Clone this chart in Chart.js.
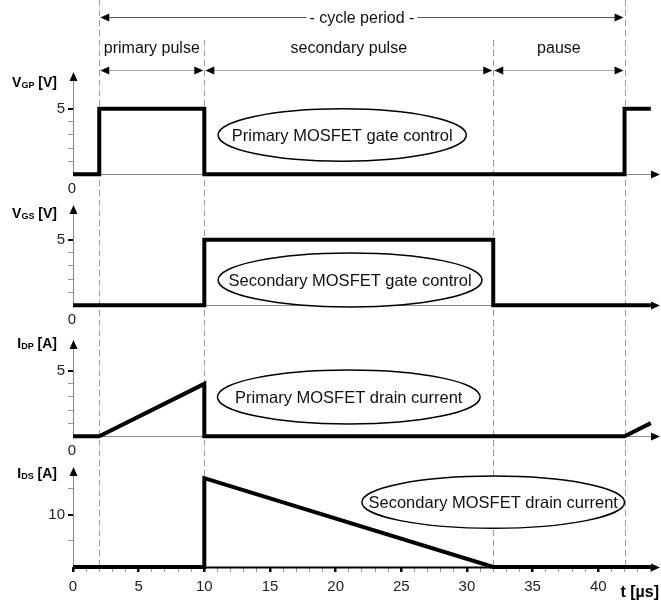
<!DOCTYPE html>
<html>
<head>
<meta charset="utf-8">
<script src="https://cdn.jsdelivr.net/npm/chart.js@4"></script>
<style>
  html, body { margin: 0; padding: 0; background: #fff; }
  #wrap { width: 661px; height: 607px; }
</style>
</head>
<body>
<div id="wrap"><canvas id="timing" width="661" height="607"></canvas></div>
<script>
// waveforms, time in µs
var tGp = [0, 2, 2, 10, 10, 42, 42, 44]
var vGp = [0, 0, 5, 5, 0, 0, 5, 5]
var tGs = [0, 10, 10, 32, 32, 44]
var vGs = [0, 0, 5, 5, 0, 0]
var tDp = [0, 2, 10, 10, 42, 44]
var iDp = [0, 0, 4, 0, 0, 1]
var tDs = [0, 10, 10, 32, 44]
var iDs = [0, 0, 17, 0, 0]

// ticks
var timeTicks = [0,1,2,3,4,5,6,7,8,9,10,11,12,13,14,15,16,17,18,19,20,21,22,23,24,25,26,27,28,29,30,31,32,33,34,35,36,37,38,39,40,41,42,43,44]
var voltTicks = [1, 2, 3, 4, 5]
var ampTicks = [1, 2, 3, 4, 5]
var bigAmpTicks = [5, 10, 15]

// phases of one cycle
var phaseMarks = [2, 10, 32, 42]
var phaseNames = ["primary pulse", "secondary pulse", "pause"]
var cycleName = "- cycle period -"

var panelIds = ["yGp", "yGs", "yDp", "yDs"]
var panelTitles = [["V", "GP", " [V]"], ["V", "GS", " [V]"], ["I", "DP", " [A]"], ["I", "DS", " [A]"]]
var titleLevel = [6.66, 6.66, 6.74, 16.96]
var arrowLevel = [7.8, 7.66, 7.35, 19.1]
var bubbleTexts = ["Primary MOSFET gate control", "Secondary MOSFET gate control", "Primary MOSFET drain current", "Secondary MOSFET drain current"]
// centre x, centre y, radius x, radius y (data units)
var bubbleX = [20.5, 21.1, 21.0, 32.0]
var bubbleY = [3.0, 1.93, 3.0, 12.4]
var bubbleRx = [9.45, 10.05, 10.0, 10.0]
var bubbleRy = [2.0, 2.06, 2.06, 5.0]

var FONT = "'Liberation Sans', Arial, sans-serif"

function pts(t, v) {
    return t.map(function (x, i) { return { x: x, y: v[i] } })
}

function trace(t, v, axis) {
    return {
        data: pts(t, v),
        yAxisID: axis,
        borderColor: "#000",
        borderWidth: 4,
        pointRadius: 0,
        tension: 0,
        borderJoinStyle: "miter",
        borderCapStyle: "butt",
        clip: false
    }
}

function yAxis(min, max, weight, stackWeight, tickList, major) {
    return {
        type: "linear",
        position: "left",
        stack: "panels",
        stackWeight: stackWeight,
        weight: weight,
        min: min,
        max: max,
        afterBuildTicks: function (s) { s.ticks = tickList.map(function (v) { return { value: v } }) },
        afterFit: function (s) { s.width = 73 },
        border: { display: false },
        grid: {
            drawOnChartArea: false,
            tickLength: 5,
            color: function (c) { return c.tick && c.tick.value === major ? "#000" : "#999" },
            lineWidth: function (c) { return c.tick && c.tick.value === major ? 2 : 1 }
        },
        ticks: {
            autoSkip: false,
            padding: 3,
            color: "#222",
            font: { family: FONT, size: 15 },
            callback: function (v) { return v === major ? String(v) : "" }
        }
    }
}

function arrowHead(ctx, x, y, dx, dy) {
    // tip at x,y pointing along dx,dy
    var len = 9, half = 4
    ctx.beginPath()
    ctx.moveTo(x, y)
    ctx.lineTo(x - dx * len - dy * half, y - dy * len + dx * half)
    ctx.lineTo(x - dx * len + dy * half, y - dy * len - dx * half)
    ctx.closePath()
    ctx.fillStyle = "#000"
    ctx.fill()
}

function line(ctx, x1, y1, x2, y2) {
    ctx.beginPath()
    ctx.moveTo(x1, y1)
    ctx.lineTo(x2, y2)
    ctx.stroke()
}

var decor = {
    id: "decor",
    beforeDatasetsDraw: function (chart) {
        var ctx = chart.ctx
        var xs = chart.scales.x
        var area = chart.chartArea
        ctx.save()
        // phase boundaries
        ctx.strokeStyle = "#9a9a9a"
        ctx.lineWidth = 1
        ctx.setLineDash([6, 4])
        phaseMarks.forEach(function (t, i) {
            var px = Math.round(xs.getPixelForValue(t)) + 0.5
            var top = (i === 0 || i === phaseMarks.length - 1) ? 0 : 40
            line(ctx, px, top, px, area.bottom)
        })
        ctx.setLineDash([])
        // axes with arrows
        panelIds.forEach(function (id, i) {
            var s = chart.scales[id]
            var y0 = Math.round(s.getPixelForValue(0)) + 0.5
            var x0 = Math.round(xs.getPixelForValue(0)) + 0.5
            var last = i === panelIds.length - 1
            ctx.strokeStyle = last ? "#000" : "#8a8a8a"
            ctx.lineWidth = last ? 2 : 1
            line(ctx, x0, y0, area.right - 6, y0)
            arrowHead(ctx, area.right, y0, 1, 0)
            var tip = s.getPixelForValue(arrowLevel[i])
            ctx.strokeStyle = "#8a8a8a"
            ctx.lineWidth = 1
            line(ctx, x0, y0, x0, tip + 6)
            arrowHead(ctx, x0, tip, 0, -1)
        })
        ctx.restore()
    },
    afterDatasetsDraw: function (chart) {
        var ctx = chart.ctx
        var xs = chart.scales.x
        var area = chart.chartArea
        ctx.save()
        panelIds.forEach(function (id, i) {
            var s = chart.scales[id]
            // note bubble
            var cx = xs.getPixelForValue(bubbleX[i])
            var cy = s.getPixelForValue(bubbleY[i])
            var rx = xs.getPixelForValue(bubbleX[i] + bubbleRx[i]) - cx
            var ry = cy - s.getPixelForValue(bubbleY[i] + bubbleRy[i])
            ctx.beginPath()
            ctx.ellipse(cx, cy, rx, ry, 0, 0, Math.PI * 2)
            ctx.fillStyle = "#fff"
            ctx.fill()
            ctx.strokeStyle = "#000"
            ctx.lineWidth = 1.5
            ctx.stroke()
            ctx.fillStyle = "#111"
            ctx.font = "16.5px " + FONT
            ctx.textAlign = "center"
            ctx.textBaseline = "middle"
            ctx.fillText(bubbleTexts[i], cx, cy + 1)

            // axis title with subscript
            var tt = panelTitles[i]
            var by = s.getPixelForValue(titleLevel[i])
            ctx.textBaseline = "alphabetic"
            ctx.textAlign = "left"
            ctx.font = "bold 14px " + FONT
            var w1 = ctx.measureText(tt[0]).width
            var w3 = ctx.measureText(tt[2]).width
            ctx.font = "bold 9px " + FONT
            var w2 = ctx.measureText(tt[1]).width
            var left = 57 - (w1 + w2 + w3)
            ctx.fillStyle = "#000"
            ctx.font = "bold 14px " + FONT
            ctx.fillText(tt[0], left, by)
            ctx.font = "bold 9px " + FONT
            ctx.fillText(tt[1], left + w1, by + 1)
            ctx.font = "bold 14px " + FONT
            ctx.fillText(tt[2], left + w1 + w2, by)

            // zero under origin
            if (i < panelIds.length - 1) {
                ctx.font = "15px " + FONT
                ctx.fillStyle = "#222"
                ctx.textAlign = "center"
                ctx.fillText("0", xs.getPixelForValue(0) - 1, s.getPixelForValue(0) + 19)
            }
        })

        // cycle period arrow
        var xa = xs.getPixelForValue(phaseMarks[0])
        var xb = xs.getPixelForValue(phaseMarks[phaseMarks.length - 1])
        var row1 = 17.5
        ctx.strokeStyle = "#555"
        ctx.lineWidth = 1
        line(ctx, xa + 4, row1, xb - 4, row1)
        arrowHead(ctx, xa + 1, row1, -1, 0)
        arrowHead(ctx, xb - 1, row1, 1, 0)
        ctx.font = "16px " + FONT
        var cw = ctx.measureText(cycleName).width
        var cmid = (xa + xb) / 2
        ctx.fillStyle = "#fff"
        ctx.fillRect(cmid - cw / 2 - 3, row1 - 10, cw + 6, 20)
        ctx.fillStyle = "#111"
        ctx.textAlign = "center"
        ctx.textBaseline = "middle"
        ctx.fillText(cycleName, cmid, row1 + 1)

        // phase arrows
        var row2 = 70.5
        ctx.textBaseline = "alphabetic"
        for (var k = 0; k < phaseNames.length; k++) {
            var p1 = xs.getPixelForValue(phaseMarks[k])
            var p2 = xs.getPixelForValue(phaseMarks[k + 1])
            ctx.strokeStyle = "#aaa"
            line(ctx, p1 + 4, row2, p2 - 4, row2)
            arrowHead(ctx, p1 + 1, row2, -1, 0)
            arrowHead(ctx, p2 - 1, row2, 1, 0)
            ctx.fillStyle = "#111"
            ctx.fillText(phaseNames[k], (p1 + p2) / 2, 53)
        }

        // time axis title
        ctx.font = "bold 16px " + FONT
        ctx.fillStyle = "#000"
        ctx.textAlign = "right"
        ctx.fillText("t [\u00b5s]", area.right - 1, 597)
        ctx.restore()
    }
}

new Chart(document.getElementById("timing"), {
    type: "line",
    data: {
        datasets: [
            trace(tGp, vGp, "yGp"),
            trace(tGs, vGs, "yGs"),
            trace(tDp, iDp, "yDp"),
            trace(tDs, iDs, "yDs")
        ]
    },
    options: {
        responsive: false,
        animation: false,
        layout: { padding: { top: 62, right: 1, left: 0, bottom: 0 } },
        plugins: { legend: { display: false }, tooltip: { enabled: false } },
        scales: {
            x: {
                type: "linear",
                min: 0,
                max: 44.7,
                afterBuildTicks: function (s) { s.ticks = timeTicks.map(function (v) { return { value: v } }) },
                afterFit: function (s) { s.height = 40 },
                border: { display: false },
                grid: {
                    drawOnChartArea: false,
                    tickLength: 5,
                    color: function (c) { return c.tick && c.tick.value % 5 === 0 ? "#000" : "#999" },
                    lineWidth: function (c) { return c.tick && c.tick.value % 5 === 0 ? 2.5 : 1 }
                },
                ticks: {
                    autoSkip: false,
                    maxRotation: 0,
                    padding: 6,
                    color: "#222",
                    font: { family: FONT, size: 15 },
                    callback: function (v) { return v % 5 === 0 ? String(v) : "" }
                }
            },
            yGp: yAxis(-1.66, 8.57, 4, 134, voltTicks, 5),
            yGs: yAxis(-1.66, 8.34, 3, 131, voltTicks, 5),
            yDp: yAxis(-1.66, 8.34, 2, 131, ampTicks, 5),
            yDs: yAxis(0, 20.84, 1, 109, bigAmpTicks, 10)
        }
    },
    plugins: [decor]
})
</script>
</body>
</html>
